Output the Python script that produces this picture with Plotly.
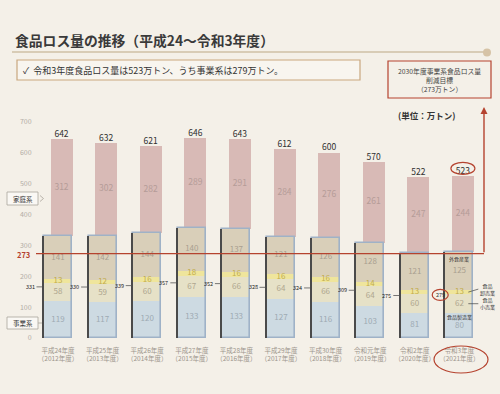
import plotly.graph_objects as go

# ---------------- data ----------------
years_jp = ["平成24年度", "平成25年度", "平成26年度", "平成27年度", "平成28年度",
            "平成29年度", "平成30年度", "令和元年度", "令和2年度", "令和3年度"]
years_ad = ["（2012年度）", "（2013年度）", "（2014年度）", "（2015年度）", "（2016年度）",
            "（2017年度）", "（2018年度）", "（2019年度）", "（2020年度）", "（2021年度）"]
total = [642, 632, 621, 646, 643, 612, 600, 570, 522, 523]
household = [312, 302, 282, 289, 291, 284, 276, 261, 247, 244]
business = [331, 330, 339, 357, 352, 328, 324, 309, 275, 279]
manufacturing = [119, 117, 120, 133, 133, 127, 116, 103, 81, 80]   # 食品製造業
retail = [58, 59, 60, 67, 66, 64, 66, 64, 60, 62]                  # 食品小売業
wholesale = [13, 12, 16, 18, 16, 16, 16, 14, 13, 13]               # 食品卸売業
restaurant = [141, 142, 144, 140, 137, 121, 126, 128, 121, 125]    # 外食産業
target = 273
y_ticks = [0, 100, 200, 300, 400, 500, 600, 700]

# ---------------- geometry helpers ----------------
W, H = 500, 394
ML, MR, MT, MB = 36, 8, 100, 56
PW, PH = W - ML - MR, H - MT - MB
STEP = 44.6          # px per category
C0 = 58              # px of first category centre
YPX = 0.309          # px per unit
x_range = [(ML - C0) / STEP, (W - MR - C0) / STEP]
y_range = [0, PH / YPX]


def px(X):
    return (X - ML) / PW


def py(Y):
    return (MT + PH - Y) / PH


def dx(X):   # pixel -> data x
    return (X - C0) / STEP


def dy(Y):   # pixel -> data y
    return (MT + PH - Y) / YPX


n = len(total)
xs = list(range(n))

PINK = "#d8bab6"
C_REST = "#d9cfb9"
C_WHOLE = "#efe59c"
C_RET = "#e6e1c7"
C_MFG = "#cddae2"
BLUE_LINE = "#9fb2c7"
RED = "#b5432f"
FONT = "Noto Sans CJK JP"

fig = go.Figure()

box_w = 28 / STEP
pink_w = 22 / STEP
pink_off = 3.5 / STEP - pink_w / 2

# household bars
fig.add_bar(x=xs, y=household, base=business, width=[pink_w] * n, offset=pink_off,
            marker=dict(color=PINK, line=dict(width=0)), hoverinfo="skip")

# business stack
b_ret = manufacturing
b_whole = [a + b for a, b in zip(manufacturing, retail)]
b_rest = [a + b for a, b in zip(b_whole, wholesale)]
for vals, base, col in [(manufacturing, [0] * n, C_MFG), (retail, b_ret, C_RET),
                        (wholesale, b_whole, C_WHOLE), (restaurant, b_rest, C_REST)]:
    fig.add_bar(x=xs, y=vals, base=base, width=[box_w] * n, offset=-box_w / 2,
                marker=dict(color=col, line=dict(width=0)), hoverinfo="skip")

# blue outline box
fig.add_bar(x=xs, y=business, width=[box_w] * n, offset=-box_w / 2,
            marker=dict(color="rgba(0,0,0,0)", line=dict(color=BLUE_LINE, width=1.6)),
            hoverinfo="skip")
# dark left edge (3D frame)
fig.add_bar(x=xs, y=business, width=[1.4 / STEP] * n, offset=-box_w / 2 - 1.6 / STEP,
            marker=dict(color="#4a4a4a", line=dict(width=0)), hoverinfo="skip")

# value labels
fig.add_scatter(x=[i + 3.5 / STEP for i in xs], y=total, mode="text",
                text=[str(v) for v in total], textposition="top center",
                textfont=dict(size=8.5, color="#2f2f2f", family=FONT), hoverinfo="skip")
fig.add_scatter(x=[i + 3.5 / STEP for i in xs],
                y=[b + h / 2 for b, h in zip(business, household)], mode="text",
                text=[str(v) for v in household],
                textfont=dict(size=8.5, color="#b59c98", family=FONT), hoverinfo="skip")
fig.add_scatter(x=xs, y=[b + v / 2 for b, v in zip(b_rest, restaurant)], mode="text",
                text=[str(v) for v in restaurant],
                textfont=dict(size=8, color="#a99f90", family=FONT), hoverinfo="skip")
fig.add_scatter(x=xs, y=[b + v / 2 for b, v in zip(b_whole, wholesale)], mode="text",
                text=[str(v) for v in wholesale],
                textfont=dict(size=8, color="#c2ad4c", family=FONT), hoverinfo="skip")
fig.add_scatter(x=xs, y=[b + v / 2 for b, v in zip(b_ret, retail)], mode="text",
                text=[str(v) for v in retail],
                textfont=dict(size=8, color="#aea68e", family=FONT), hoverinfo="skip")
fig.add_scatter(x=xs, y=[v / 2 for v in manufacturing], mode="text",
                text=[str(v) for v in manufacturing],
                textfont=dict(size=8, color="#9eaab3", family=FONT), hoverinfo="skip")

ann = []
shapes = []

# business totals left of the boxes
for i, v in enumerate(business):
    if i == n - 1:
        ann.append(dict(x=i - 0.43, y=v / 2, xref="x", yref="y", text=str(v),
                        xanchor="center", yanchor="middle",
                        showarrow=False, font=dict(size=5.5, color="#333", family=FONT)))
        shapes.append(dict(type="circle", xref="x", yref="y",
                           x0=i - 0.43 - 8 / STEP, x1=i - 0.43 + 8 / STEP,
                           y0=v / 2 - 5.5 / YPX, y1=v / 2 + 5.5 / YPX,
                           line=dict(color=RED, width=1.2)))
    else:
        ann.append(dict(x=i - box_w / 2 - 1.5 / STEP, y=v / 2, xref="x", yref="y",
                        text=str(v), showarrow=True, arrowhead=0, arrowwidth=0.8,
                        arrowcolor="#555", ax=-6, ay=0, xanchor="right", yanchor="middle",
                        font=dict(size=5.5, color="#222", family=FONT)))

# 523 circle
shapes.append(dict(type="circle", xref="x", yref="y",
                   x0=n - 1 + 3.5 / STEP - 12 / STEP, x1=n - 1 + 3.5 / STEP + 12 / STEP,
                   y0=total[-1] + 2 / YPX, y1=total[-1] + 14 / YPX,
                   line=dict(color=RED, width=1.2)))

# target line + arrow
x_arrow = dx(484)
shapes.append(dict(type="line", xref="x", yref="y", x0=dx(30), x1=x_arrow,
                   y0=target, y1=target, line=dict(color=RED, width=1.4)))
ann.append(dict(x=x_arrow, y=dy(107), xref="x", yref="y", ax=x_arrow, ay=target,
                axref="x", ayref="y", text="", showarrow=True, arrowhead=2,
                arrowsize=1, arrowwidth=1.4, arrowcolor=RED))
ann.append(dict(x=px(23), y=target, xref="paper", yref="y", yshift=-1, text="<b>273</b>",
                xanchor="center", yanchor="middle",
                showarrow=False, font=dict(size=7.5, color=RED, family=FONT)))

# bar-10 detail labels
last = n - 1
ann.append(dict(x=last, y=business[-1], xref="x", yref="y", yshift=-7, text="外食産業",
                xanchor="center", yanchor="middle",
                showarrow=False, font=dict(size=5, color="#333", family=FONT)))
ann.append(dict(x=last, y=manufacturing[-1], xref="x", yref="y", yshift=-4, text="食品製造業",
                xanchor="center", yanchor="middle",
                showarrow=False, font=dict(size=5, color="#333", family=FONT)))
ann.append(dict(x=last + 0.2, y=b_whole[-1] + wholesale[-1] / 2, xref="x", yref="y",
                text="食品<br>卸売業", showarrow=True, arrowhead=0, arrowwidth=0.7,
                arrowcolor="#444", ax=10, ay=-3, xanchor="left", yanchor="middle",
                font=dict(size=5, color="#333", family=FONT)))
ann.append(dict(x=last + 0.2, y=b_ret[-1] + retail[-1] / 2, xref="x", yref="y",
                text="食品<br>小売業", showarrow=True, arrowhead=0, arrowwidth=0.7,
                arrowcolor="#444", ax=10, ay=0, xanchor="left", yanchor="middle",
                font=dict(size=5, color="#333", family=FONT)))

# bottom ellipse around last category label
shapes.append(dict(type="circle", xref="paper", yref="paper",
                   x0=px(434), x1=px(488), y0=py(373), y1=py(346),
                   line=dict(color=RED, width=1.2)))

# title + underline
ann.append(dict(x=px(13), y=py(40), xref="paper", yref="paper",
                xanchor="left", yanchor="middle",
                text="<b>食品ロス量の推移（平成24～令和3年度）</b>", showarrow=False,
                font=dict(size=13.8, color="#3a3a3a", family=FONT)))
shapes.append(dict(type="line", xref="paper", yref="paper", x0=px(12), x1=px(486),
                   y0=py(52), y1=py(52), line=dict(color="#d8ccb6", width=2)))
shapes.append(dict(type="circle", xref="paper", yref="paper", x0=px(483), x1=px(491),
                   y0=py(56.5), y1=py(48.5), fillcolor="#d6c3a6", line=dict(width=0)))

# summary box
shapes.append(dict(type="rect", xref="paper", yref="paper", x0=px(17), x1=px(360),
                   y0=py(80), y1=py(60), fillcolor="#f8f5ef",
                   line=dict(color="#c9a77f", width=1.2)))
ann.append(dict(x=px(21), y=py(70), xref="paper", yref="paper",
                xanchor="left", yanchor="middle",
                text="✓  令和3年度食品ロス量は523万トン、うち事業系は279万トン。",
                showarrow=False, font=dict(size=9, color="#333", family=FONT)))

# target box
shapes.append(dict(type="rect", xref="paper", yref="paper", x0=px(388), x1=px(491),
                   y0=py(98), y1=py(61), line=dict(color=RED, width=1.2)))
ann.append(dict(x=px(439.5), y=py(79.5), xref="paper", yref="paper",
                xanchor="center", yanchor="middle",
                text="2030年度事業系食品ロス量<br>削減目標<br>（273万トン）", showarrow=False,
                font=dict(size=6.8, color="#444", family=FONT)))
ann.append(dict(x=px(426), y=py(115), xref="paper", yref="paper",
                xanchor="center", yanchor="middle",
                text="<b>(単位：万トン)</b>", showarrow=False,
                font=dict(size=8.5, color="#333", family=FONT)))

# side labels 家庭系 / 事業系
for label, y0, y1 in [("家庭系", 192, 205), ("事業系", 317, 329)]:
    shapes.append(dict(type="rect", xref="paper", yref="paper", x0=px(7), x1=px(38),
                       y0=py(y1), y1=py(y0), fillcolor="#faf8f4",
                       line=dict(color="#aaa49c", width=0.8)))
    ann.append(dict(x=px(22.5), y=py((y0 + y1) / 2), xref="paper", yref="paper",
                    xanchor="center", yanchor="middle",
                    text=label, showarrow=False,
                    font=dict(size=6.5, color="#333", family=FONT)))
shapes.append(dict(type="path", xref="paper", yref="paper",
                   path=f"M {px(40)} {py(195.5)} L {px(43.5)} {py(198.5)} L {px(40)} {py(201.5)}",
                   line=dict(color="#aaa49c", width=0.8)))
shapes.append(dict(type="line", xref="paper", yref="paper", x0=px(38), x1=px(42),
                   y0=py(323), y1=py(323), line=dict(color="#aaa49c", width=0.8)))

fig.update_layout(
    width=W, height=H, margin=dict(l=ML, r=MR, t=MT, b=MB),
    paper_bgcolor="#f4f0e8", plot_bgcolor="rgba(0,0,0,0)",
    barmode="overlay", showlegend=False, bargap=0,
    font=dict(family=FONT),
    annotations=ann, shapes=shapes,
    xaxis=dict(range=x_range, tickvals=xs,
               ticktext=[f"{a}<br>{b}" for a, b in zip(years_jp, years_ad)],
               tickfont=dict(size=6.5, color="#9c958c", family=FONT),
               showgrid=False, zeroline=False, showline=False,
               ticks="outside", ticklen=6, tickcolor="rgba(0,0,0,0)"),
    yaxis=dict(range=y_range, tickvals=y_ticks, showgrid=False, zeroline=False,
               showline=False, tickfont=dict(size=7, color="#b3ada5", family=FONT),
               ticks="outside", ticklen=2, tickcolor="rgba(0,0,0,0)"),
)

fig.write_html("out.html", config={"displayModeBar": False},
               post_script="document.body.style.margin='0';document.body.style.background='#f4f0e8';")
